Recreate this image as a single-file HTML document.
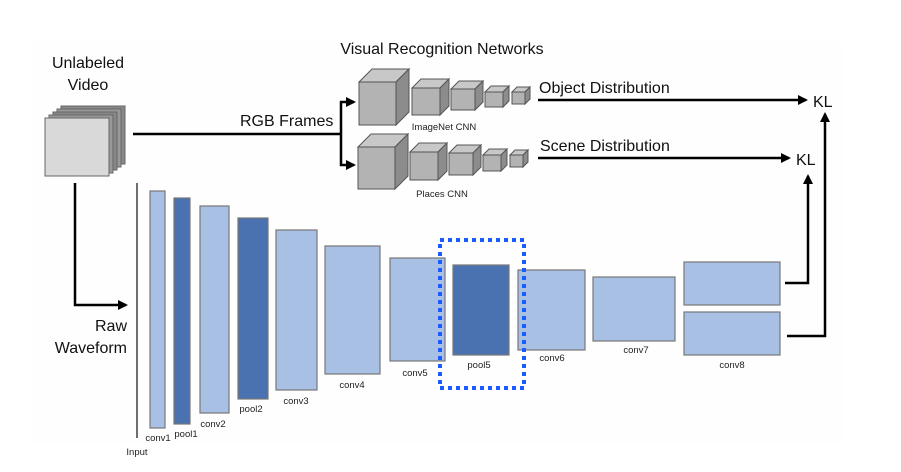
<!DOCTYPE html>
<html><head><meta charset="utf-8">
<style>
html,body{margin:0;padding:0;background:#fff;}
svg{display:block;font-family:"Liberation Sans",sans-serif;}
</style></head>
<body>
<svg width="901" height="472" viewBox="0 0 901 472" xmlns="http://www.w3.org/2000/svg">
<defs>
<marker id="ah" markerWidth="10" markerHeight="10" refX="8" refY="5" orient="auto" markerUnits="userSpaceOnUse">
<path d="M0,0 L10,5 L0,10 Z" fill="#000"/>
</marker>
</defs>
<rect x="0" y="0" width="901" height="472" fill="#fff"/>
<rect x="33" y="42" width="810" height="402" fill="#fefefe"/>

<text x="88" y="68" font-size="16" text-anchor="middle" fill="#111">Unlabeled</text>
<text x="88" y="90" font-size="16" text-anchor="middle" fill="#111">Video</text>
<text x="442" y="54" font-size="16" text-anchor="middle" fill="#111">Visual Recognition Networks</text>

<g stroke="#666" stroke-width="1">
<rect x="61" y="106" width="64" height="58" fill="#888"/>
<rect x="57" y="109" width="64" height="58" fill="#999"/>
<rect x="53" y="112" width="64" height="58" fill="#888"/>
<rect x="49" y="115" width="64" height="58" fill="#999"/>
<rect x="45" y="118" width="64" height="58" fill="#d9d9d9"/>
</g>

<line x1="133" y1="134" x2="341" y2="134" stroke="#000" stroke-width="2.5"/>
<text x="240" y="126" font-size="16" fill="#111">RGB Frames</text>
<line x1="341" y1="101" x2="341" y2="166" stroke="#000" stroke-width="2.5"/>
<line x1="340" y1="102" x2="354" y2="102" stroke="#000" stroke-width="2.5" marker-end="url(#ah)"/>
<line x1="340" y1="165" x2="354" y2="165" stroke="#000" stroke-width="2.5" marker-end="url(#ah)"/>

<g stroke="#555" stroke-width="1">
<polygon points="359,82 372,69 409,69 396,82" fill="#c8c8c8"/><polygon points="396,82 409,69 409,112 396,125" fill="#8c8c8c"/><rect x="359" y="82" width="37" height="43" fill="#b3b3b3"/>
<polygon points="412,88 421,79 449,79 440,88" fill="#c8c8c8"/><polygon points="440,88 449,79 449,106 440,115" fill="#8c8c8c"/><rect x="412" y="88" width="28" height="27" fill="#b3b3b3"/>
<polygon points="451,89 459,81 483,81 475,89" fill="#c8c8c8"/><polygon points="475,89 483,81 483,102 475,110" fill="#8c8c8c"/><rect x="451" y="89" width="24" height="21" fill="#b3b3b3"/>
<polygon points="485,92 491,86 509,86 503,92" fill="#c8c8c8"/><polygon points="503,92 509,86 509,101 503,107" fill="#8c8c8c"/><rect x="485" y="92" width="18" height="15" fill="#b3b3b3"/>
<polygon points="512,92 517,87 530,87 525,92" fill="#c8c8c8"/><polygon points="525,92 530,87 530,99 525,104" fill="#8c8c8c"/><rect x="512" y="92" width="13" height="12" fill="#b3b3b3"/>
<polygon points="358,147 371,134 408,134 395,147" fill="#c8c8c8"/><polygon points="395,147 408,134 408,176 395,189" fill="#8c8c8c"/><rect x="358" y="147" width="37" height="42" fill="#b3b3b3"/>
<polygon points="410,152 419,143 447,143 438,152" fill="#c8c8c8"/><polygon points="438,152 447,143 447,171 438,180" fill="#8c8c8c"/><rect x="410" y="152" width="28" height="28" fill="#b3b3b3"/>
<polygon points="449,153 457,145 481,145 473,153" fill="#c8c8c8"/><polygon points="473,153 481,145 481,167 473,175" fill="#8c8c8c"/><rect x="449" y="153" width="24" height="22" fill="#b3b3b3"/>
<polygon points="483,155 489,149 507,149 501,155" fill="#c8c8c8"/><polygon points="501,155 507,149 507,165 501,171" fill="#8c8c8c"/><rect x="483" y="155" width="18" height="16" fill="#b3b3b3"/>
<polygon points="510,155 515,150 528,150 523,155" fill="#c8c8c8"/><polygon points="523,155 528,150 528,162 523,167" fill="#8c8c8c"/><rect x="510" y="155" width="13" height="12" fill="#b3b3b3"/>
</g>
<text x="444" y="130" font-size="9.5" text-anchor="middle" fill="#222">ImageNet CNN</text>
<text x="442" y="197" font-size="9.5" text-anchor="middle" fill="#222">Places CNN</text>

<text x="539" y="93" font-size="16" fill="#111">Object Distribution</text>
<line x1="538" y1="100" x2="806" y2="100" stroke="#000" stroke-width="2.5" marker-end="url(#ah)"/>
<text x="813" y="107" font-size="16" fill="#111">KL</text>
<text x="540" y="151" font-size="16" fill="#111">Scene Distribution</text>
<line x1="538" y1="158" x2="789" y2="158" stroke="#000" stroke-width="2.5" marker-end="url(#ah)"/>
<text x="796" y="165" font-size="16" fill="#111">KL</text>

<polyline points="75,183 75,305 126,305" fill="none" stroke="#000" stroke-width="2.5" marker-end="url(#ah)"/>
<text x="127" y="331" font-size="16" text-anchor="end" fill="#111">Raw</text>
<text x="127" y="353" font-size="16" text-anchor="end" fill="#111">Waveform</text>

<line x1="137" y1="183" x2="137" y2="438" stroke="#222" stroke-width="1.3"/>
<text x="137" y="455" font-size="9.5" text-anchor="middle" fill="#222">Input</text>

<g stroke="#777" stroke-width="1.2">
<rect x="150" y="191" width="15" height="237" fill="#a7c0e4"/>
<rect x="174" y="198" width="16" height="226" fill="#4a72b0"/>
<rect x="200" y="206" width="29" height="207" fill="#a7c0e4"/>
<rect x="238" y="218" width="30" height="181" fill="#4a72b0"/>
<rect x="276" y="230" width="41" height="160" fill="#a7c0e4"/>
<rect x="325" y="246" width="55" height="128" fill="#a7c0e4"/>
<rect x="390" y="258" width="55" height="103" fill="#a7c0e4"/>
<rect x="453" y="265" width="56" height="90" fill="#4a72b0"/>
<rect x="518" y="270" width="67" height="80" fill="#a7c0e4"/>
<rect x="593" y="277" width="82" height="64" fill="#a7c0e4"/>
<rect x="684" y="262" width="96" height="43" fill="#a7c0e4"/>
<rect x="684" y="312" width="96" height="43" fill="#a7c0e4"/>
</g>
<rect x="440" y="240" width="84" height="148" fill="none" stroke="#1a5cff" stroke-width="4" stroke-dasharray="4,4"/>

<g font-size="9.5" text-anchor="middle" fill="#222">
<text x="158" y="441">conv1</text>
<text x="186" y="437">pool1</text>
<text x="213" y="427">conv2</text>
<text x="251" y="412">pool2</text>
<text x="296" y="404">conv3</text>
<text x="352" y="388">conv4</text>
<text x="415" y="376">conv5</text>
<text x="479" y="368">pool5</text>
<text x="552" y="361">conv6</text>
<text x="636" y="353">conv7</text>
<text x="732" y="368">conv8</text>
</g>

<polyline points="785,283 808,283 808,176" fill="none" stroke="#000" stroke-width="2.5" marker-end="url(#ah)"/>
<polyline points="787,336 825,336 825,114" fill="none" stroke="#000" stroke-width="2.5" marker-end="url(#ah)"/>
</svg>
</body></html>
